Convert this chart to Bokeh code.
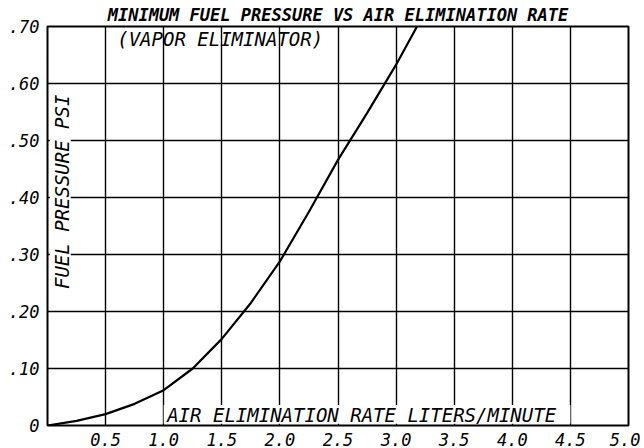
from bokeh.plotting import figure
from bokeh.models import FixedTicker, Label, Range1d
from bokeh.embed import file_html
from bokeh.resources import INLINE

# data
rate = [0.0, 0.25, 0.5, 0.75, 1.0, 1.25, 1.5, 1.75, 2.0, 2.25, 2.5, 2.75, 3.0, 3.18]
pressure = [0.0, 0.008, 0.020, 0.038, 0.062, 0.100, 0.152, 0.215, 0.288, 0.375, 0.466, 0.548, 0.633, 0.700]

x_ticks = [0.0, 0.5, 1.0, 1.5, 2.0, 2.5, 3.0, 3.5, 4.0, 4.5, 5.0]
x_tick_labels = ["", "0.5", "1.0", "1.5", "2.0", "2.5", "3.0", "3.5", "4.0", "4.5", "5.0"]
y_ticks = [0.0, 0.1, 0.2, 0.3, 0.4, 0.5, 0.6, 0.7]
y_tick_labels = ["0", ".10", ".20", ".30", ".40", ".50", ".60", ".70"]

title_text = "MINIMUM FUEL PRESSURE VS AIR ELIMINATION RATE"
subtitle_text = "(VAPOR ELIMINATOR)"
x_label_text = "AIR ELIMINATION RATE LITERS/MINUTE"
y_label_text = "FUEL PRESSURE PSI"

FONT = "DejaVu Sans Mono"

p = figure(width=640, height=448, output_backend="svg", toolbar_location=None,
           x_range=Range1d(0, 5.0), y_range=Range1d(0, 0.70),
           min_border_left=47, min_border_right=12, min_border_top=26, min_border_bottom=20)
p.background_fill_color = "white"
p.border_fill_color = "white"
p.outline_line_color = "black"
p.outline_line_width = 2

p.title.text = title_text
p.title.align = "center"
p.title.text_font = FONT
p.title.text_font_style = "bold italic"
p.title.text_font_size = "17px"
p.title.text_color = "black"
p.title.standoff = 3

for ax in (p.xaxis[0], p.yaxis[0]):
    ax.axis_line_color = None
    ax.major_tick_line_color = None
    ax.minor_tick_line_color = None
    ax.major_label_text_font = FONT
    ax.major_label_text_font_style = "italic"
    ax.major_label_text_font_size = "17px"
    ax.major_label_text_color = "black"
    ax.major_label_standoff = 2
p.xaxis.major_label_standoff = 1

p.xaxis.ticker = FixedTicker(ticks=x_ticks)
p.xaxis.major_label_overrides = {t: l for t, l in zip(x_ticks, x_tick_labels)}
p.yaxis.ticker = FixedTicker(ticks=y_ticks)
p.yaxis.major_label_overrides = {t: l for t, l in zip(y_ticks, y_tick_labels)}

p.xgrid.ticker = FixedTicker(ticks=x_ticks)
p.ygrid.ticker = FixedTicker(ticks=y_ticks)
for g in (p.xgrid[0], p.ygrid[0]):
    g.grid_line_color = "black"
    g.grid_line_width = 1.4
    g.grid_line_alpha = 1.0

# white boxes behind in-plot labels (they interrupt grid lines)
p.quad(left=[1.0], right=[4.5], bottom=[0.003], top=[0.036], fill_color="white", line_color=None)
p.quad(left=[0.02], right=[0.2], bottom=[0.235], top=[0.585], fill_color="white", line_color=None)

p.line(rate, pressure, line_color="black", line_width=2.2)

p.add_layout(Label(x=0.60, y=0.678, text=subtitle_text, text_align="left",
                   text_baseline="middle", text_font=FONT, text_font_style="italic",
                   text_font_size="19px", text_color="black"))
p.add_layout(Label(x=1.03, y=0.018, text=x_label_text, text_align="left",
                   text_baseline="middle", text_font=FONT, text_font_style="italic",
                   text_font_size="19px", text_color="black"))
p.add_layout(Label(x=0.125, y=0.41, text=y_label_text, angle=1.5708, text_align="center",
                   text_baseline="middle", text_font=FONT, text_font_style="italic",
                   text_font_size="19px", text_color="black"))

open("out.html", "w").write(file_html(p, INLINE))
